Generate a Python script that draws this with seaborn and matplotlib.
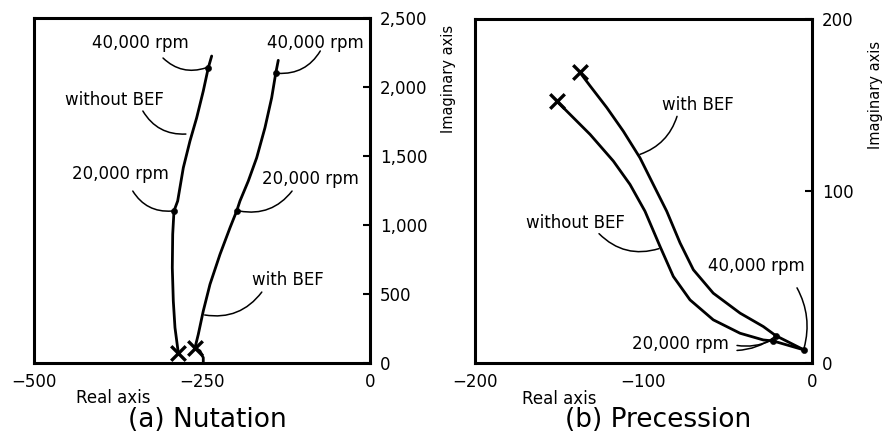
import matplotlib
matplotlib.use("Agg")
import matplotlib.pyplot as plt
import seaborn as sns

sns.set_style("white")
plt.rcParams['font.family'] = ['DejaVu Sans']
plt.rcParams['text.color'] = 'black'
plt.rcParams['axes.labelcolor'] = 'black'

# ---------------- data: (a) Nutation ----------------
nut_without_x = [-285.3, -290.2, -292.7, -294.2, -293.6, -291.7, -286.2, -277.8,
                 -267.9, -257.9, -248.1, -240.6, -235.6]
nut_without_y = [74.6, 255.8, 449.3, 690.5, 932.6, 1101.4, 1173.9, 1415.1,
                 1608.6, 1777.4, 1970.9, 2139.7, 2224.5]
nut_with_x = [-248.1, -248.1, -253.0, -260.4, -255.5, -248.1, -238.1, -223.2,
              -208.3, -198.4, -193.5, -181.1, -168.6, -156.3, -146.3, -140.3, -136.5]
nut_with_y = [0, 38.4, 87.0, 110.9, 208.0, 376.8, 570.3, 787.6,
              980.4, 1101.4, 1173.9, 1318.8, 1487.6, 1705.0, 1922.4, 2099.2, 2193.4]
nut_start_x = [-285.3, -260.4]          # open-loop poles (0 rpm)
nut_start_y = [74.6, 110.9]
nut_dot_x = [-291.7, -240.6, -198.4, -140.3]  # 20,000 / 40,000 rpm points
nut_dot_y = [1101.4, 2139.7, 1101.4, 2099.2]

# ---------------- data: (b) Precession ----------------
pre_without_x = [-151.5, -145.6, -131.7, -117.9, -108.0, -99.1, -90.2, -82.3,
                 -72.4, -58.6, -42.7, -28.9, -23.0, -4.7]
pre_without_y = [152.3, 146.5, 132.9, 117.4, 103.8, 88.2, 67.8, 50.3,
                 36.7, 25.1, 17.3, 13.4, 12.8, 7.6]
pre_with_x = [-137.7, -131.7, -121.8, -112.0, -102.1, -94.2, -86.2, -78.3,
              -70.4, -58.6, -42.7, -28.9, -21.5, -4.7]
pre_with_y = [168.9, 161.1, 148.5, 134.8, 119.3, 103.8, 88.2, 69.8,
              54.2, 40.6, 29.0, 21.2, 15.9, 7.6]
pre_start_x = [-151.5, -137.7]
pre_start_y = [152.3, 168.9]
pre_dot_x = [-23.0, -21.5, -4.7]
pre_dot_y = [12.8, 15.9, 7.6]

fig = plt.figure(figsize=(8.84, 4.32), dpi=100)
ax1 = fig.add_axes([34/884, 1-363/432, 336/884, 345/432])
ax2 = fig.add_axes([475/884, 1-363/432, 337/884, 344/432])

LW = 2.0

def draw(ax, wx, wy, bx, by, sx, sy, dx, dy):
    sns.lineplot(x=wx, y=wy, ax=ax, sort=False, color='black', lw=LW, estimator=None)
    sns.lineplot(x=bx, y=by, ax=ax, sort=False, color='black', lw=LW, estimator=None)
    sns.scatterplot(x=sx, y=sy, ax=ax, marker='x', s=110, color='black', linewidth=2.4, zorder=5)
    sns.scatterplot(x=dx, y=dy, ax=ax, marker='o', s=20, color='black', edgecolor='black', zorder=5)

draw(ax1, nut_without_x, nut_without_y, nut_with_x, nut_with_y,
     nut_start_x, nut_start_y, nut_dot_x, nut_dot_y)
draw(ax2, pre_without_x, pre_without_y, pre_with_x, pre_with_y,
     pre_start_x, pre_start_y, pre_dot_x, pre_dot_y)

for ax in (ax1, ax2):
    for s in ax.spines.values():
        s.set_visible(True)
        s.set_linewidth(2.2)
        s.set_color('black')
    ax.yaxis.tick_right()
    ax.tick_params(axis='both', direction='in', length=5, width=1.5,
                   labelsize=12, pad=7, colors='black')
    ax.yaxis.set_label_position('right')

ax1.set_xlim(-500, 0)
ax1.set_ylim(0, 2500)
ax1.set_xticks([-500, -250, 0])
ax1.set_xticklabels(['\u2212500', '\u2212250', '0'])
ax1.set_yticks([0, 500, 1000, 1500, 2000, 2500])
ax1.set_yticklabels(['0', '500', '1,000', '1,500', '2,000', '2,500'])

ax2.set_xlim(-200, 0)
ax2.set_ylim(0, 200)
ax2.set_xticks([-200, -100, 0])
ax2.set_xticklabels(['\u2212200', '\u2212100', '0'])
ax2.set_yticks([0, 100, 200])

for ax, lx, ly, yx, yy in ((ax1, 0.235, -0.075, 1.21, 0.823),
                           (ax2, 0.25, -0.078, 1.165, 0.78)):
    ax.set_xlabel('Real axis', fontsize=12)
    ax.xaxis.set_label_coords(lx, ly)
    ax.set_ylabel('Imaginary axis', fontsize=10.5, rotation=90)
    ax.yaxis.set_label_coords(yx, yy)

ax1.text(0.516, -0.165, '(a) Nutation', transform=ax1.transAxes, ha='center',
         va='center', fontsize=19)
ax2.text(0.543, -0.165, '(b) Precession', transform=ax2.transAxes, ha='center',
         va='center', fontsize=19)

def note(ax, text, tx, ty, ax0, ay0, bx, by, rad, fs=12):
    ax.text(tx, ty, text, ha='center', va='center', fontsize=fs)
    ax.annotate('', xy=(bx, by), xytext=(ax0, ay0),
                arrowprops=dict(arrowstyle='-', lw=1.1, color='black',
                                connectionstyle=f'arc3,rad={rad}',
                                shrinkA=0, shrinkB=0))

note(ax1, '40,000 rpm', -341, 2319, -308, 2210, -244, 2139, 0.3)
note(ax1, '40,000 rpm', -82, 2319, -74, 2261, -137, 2099, -0.3)
note(ax1, 'without BEF', -381, 1906, -338, 1826, -274, 1659, 0.3)
note(ax1, '20,000 rpm', -372, 1370, -353, 1246, -295, 1101, 0.3)
note(ax1, '20,000 rpm', -88, 1333, -116, 1246, -194, 1101, -0.3)
note(ax1, 'with BEF', -122, 601, -161, 514, -246, 348, -0.3)

note(ax2, 'with BEF', -67.7, 149.8, -80.1, 143.4, -102.1, 121.3, -0.25)
note(ax2, 'without BEF', -140.6, 81.6, -126.4, 75.2, -90.8, 66.5, 0.3)
note(ax2, '40,000 rpm', -33.2, 56.6, -8.9, 43.7, -4.7, 8.7, -0.2)
note(ax2, '20,000 rpm', -78.3, 11.1, -44.5, 10.2, -24.5, 13.0, 0.15)
ax2.annotate('', xy=(-22.5, 15.0), xytext=(-44.5, 7.3),
             arrowprops=dict(arrowstyle='-', lw=1.1, color='black',
                             connectionstyle='arc3,rad=0.15', shrinkA=0, shrinkB=0))

fig.savefig('out.png', dpi=100)
